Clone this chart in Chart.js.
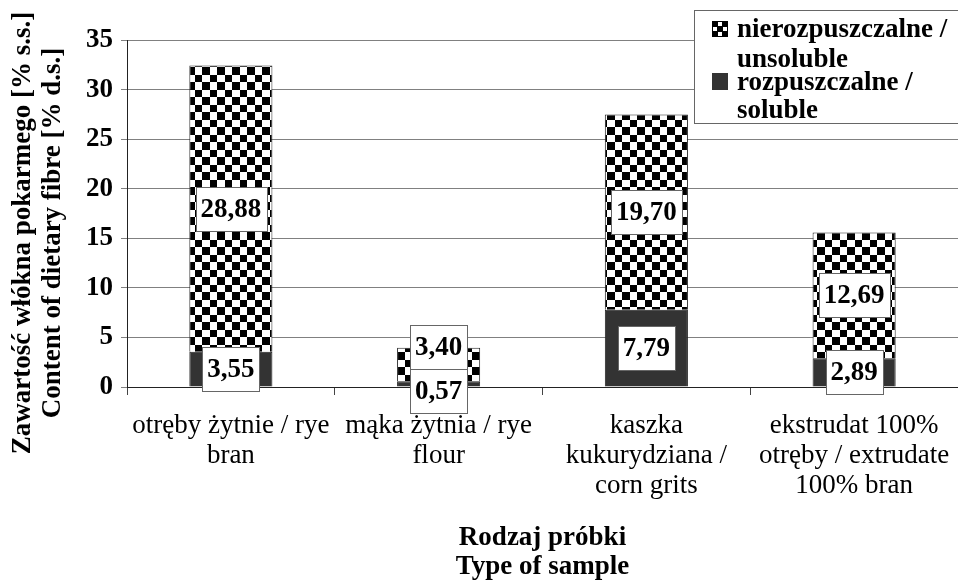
<!DOCTYPE html>
<html>
<head>
<meta charset="utf-8">
<script src="https://cdn.jsdelivr.net/npm/chart.js@4.4.0/dist/chart.umd.min.js"></script>
<style>
  html, body { margin: 0; padding: 0; background: #fff; }
  #wrap { width: 958px; height: 580px; position: relative; }
</style>
</head>
<body>
<div id="wrap"><canvas id="chart"></canvas></div>
<script>
// Data
const categories = [
  ['otręby żytnie / rye', 'bran'],
  ['mąka żytnia / rye', 'flour'],
  ['kaszka', 'kukurydziana /', 'corn grits'],
  ['ekstrudat 100%', 'otręby / extrudate', '100% bran'],
];
const soluble = [3.55, 0.57, 7.79, 2.89];
const insoluble = [28.88, 3.40, 19.70, 12.69];
const seriesNames = [['nierozpuszczalne /', 'unsoluble'], ['rozpuszczalne /', 'soluble']];
const yTitle = ['Zawartość włókna pokarmego [% s.s.]', 'Content of dietary fibre [% d.s.]'];
const xTitle = ['Rodzaj próbki', 'Type of sample'];
const yMin = 0, yMax = 35, yStep = 5;

const SERIF = "'Liberation Serif', 'Times New Roman', serif";
const FS = 27;
const DARK = '#333333';

// checkerboard fill like the Excel pattern
function makeChecker() {
  const c = document.createElement('canvas');
  c.width = 15; c.height = 15;
  const g = c.getContext('2d');
  g.fillStyle = '#fff';
  g.fillRect(0, 0, 15, 15);
  g.fillStyle = '#000';
  g.fillRect(0, 0, 7, 7);
  g.fillRect(7, 7, 8, 8);
  return g.createPattern(c, 'repeat');
}
const checker = makeChecker();

const fmt = v => v.toFixed(2).replace('.', ',');

// value boxes, legend and axis titles drawn on top
const overlayPlugin = {
  id: 'overlay',
  afterDraw(chart) {
    const ctx = chart.ctx;
    const area = chart.chartArea;
    ctx.save();

    // value labels in white boxes
    ctx.font = `bold ${FS}px ${SERIF}`;
    ctx.textAlign = 'center';
    ctx.textBaseline = 'middle';
    const h = 44;
    categories.forEach((_, i) => {
      const boxes = chart.data.datasets.map((ds, d) => {
        const bar = chart.getDatasetMeta(d).data[i];
        const text = fmt(ds.data[i]);
        return { x: bar.x, cy: (bar.y + bar.base) / 2, text, w: ctx.measureText(text).width + 10 };
      });
      const lower = boxes[0], upper = boxes[1];
      const overlap = (upper.cy + h / 2) - (lower.cy - h / 2);
      if (overlap > 0) {
        upper.cy -= overlap * 0.7;
        lower.cy += overlap * 0.3;
      }
      boxes.forEach(b => {
        const left = Math.round(b.x - b.w / 2) + 0.5;
        const top = Math.round(b.cy - h / 2) + 0.5;
        ctx.fillStyle = '#fff';
        ctx.fillRect(left, top, Math.round(b.w), h);
        ctx.strokeStyle = '#666';
        ctx.lineWidth = 1;
        ctx.strokeRect(left, top, Math.round(b.w), h);
        ctx.fillStyle = '#000';
        ctx.fillText(b.text, b.x, b.cy + 1);
      });
    });

    // legend box (top right, over the plot)
    const lx = chart.width - 264, ly = 10;
    ctx.fillStyle = '#fff';
    ctx.fillRect(lx + 0.5, ly + 0.5, 280, 113);
    ctx.strokeStyle = '#666';
    ctx.strokeRect(lx + 0.5, ly + 0.5, 280, 113);
    ctx.textAlign = 'left';
    ctx.textBaseline = 'alphabetic';
    // swatch 1: checker
    const s1x = lx + 18, s1y = ly + 11;
    ctx.fillStyle = '#fff';
    ctx.fillRect(s1x, s1y, 16, 16);
    ctx.fillStyle = '#000';
    ctx.fillRect(s1x, s1y, 6, 6);
    ctx.fillRect(s1x + 10, s1y, 6, 6);
    ctx.fillRect(s1x + 5, s1y + 5, 6, 6);
    ctx.fillRect(s1x, s1y + 10, 6, 6);
    ctx.fillRect(s1x + 10, s1y + 10, 6, 6);
    ctx.strokeStyle = '#000';
    ctx.strokeRect(s1x + 0.5, s1y + 0.5, 15, 15);
    // swatch 2: dark
    ctx.fillStyle = DARK;
    ctx.fillRect(s1x, ly + 63, 16, 17);
    ctx.fillStyle = '#000';
    ctx.font = `bold ${FS}px ${SERIF}`;
    ctx.fillText(seriesNames[0][0], lx + 43, ly + 27);
    ctx.fillText(seriesNames[0][1], lx + 43, ly + 57);
    ctx.fillText(seriesNames[1][0], lx + 43, ly + 80);
    ctx.fillText(seriesNames[1][1], lx + 43, ly + 108);

    // axis titles
    ctx.textAlign = 'center';
    ctx.textBaseline = 'middle';
    const xc = (area.left + area.right) / 2;
    ctx.fillText(xTitle[0], xc, 538);
    ctx.fillText(xTitle[1], xc, 567);
    ctx.translate(0, 233);
    ctx.rotate(-Math.PI / 2);
    ctx.fillText(yTitle[0], 0, 23);
    ctx.fillText(yTitle[1], 0, 53);
    ctx.restore();
  },
};

new Chart(document.getElementById('chart'), {
  type: 'bar',
  data: {
    labels: categories,
    datasets: [
      {
        label: seriesNames[1].join(' '),
        data: soluble,
        backgroundColor: DARK,
        borderColor: '#222',
        borderWidth: 1,
        barPercentage: 0.4,
        categoryPercentage: 1,
      },
      {
        label: seriesNames[0].join(' '),
        data: insoluble,
        backgroundColor: checker,
        borderColor: '#222',
        borderWidth: 1,
        barPercentage: 0.4,
        categoryPercentage: 1,
      },
    ],
  },
  options: {
    responsive: true,
    maintainAspectRatio: false,
    animation: false,
    layout: { padding: { top: 40, right: 0, left: 0, bottom: 0 } },
    plugins: {
      legend: { display: false },
      tooltip: { enabled: false },
    },
    scales: {
      x: {
        stacked: true,
        offset: true,
        grid: { offset: true, drawOnChartArea: false, drawTicks: true, tickLength: 8, color: '#444' },
        border: { display: true, color: '#222', width: 1 },
        ticks: {
          color: '#000',
          font: { family: SERIF, size: FS, lineHeight: 30 / FS },
          padding: 16,
          maxRotation: 0,
          autoSkip: false,
        },
        afterFit(scale) {
          scale.height = 193;
          scale.paddingLeft = 0;
          scale.paddingRight = 0;
        },
      },
      y: {
        stacked: true,
        min: yMin,
        max: yMax,
        grid: { color: '#808080', tickLength: 6 },
        border: { display: true, color: '#222', width: 1 },
        ticks: {
          stepSize: yStep,
          color: '#000',
          padding: 8,
          font: { family: SERIF, size: FS, weight: 'bold' },
        },
        afterFit(scale) { scale.width = 127; },
      },
    },
  },
  plugins: [overlayPlugin],
});
</script>
</body>
</html>
